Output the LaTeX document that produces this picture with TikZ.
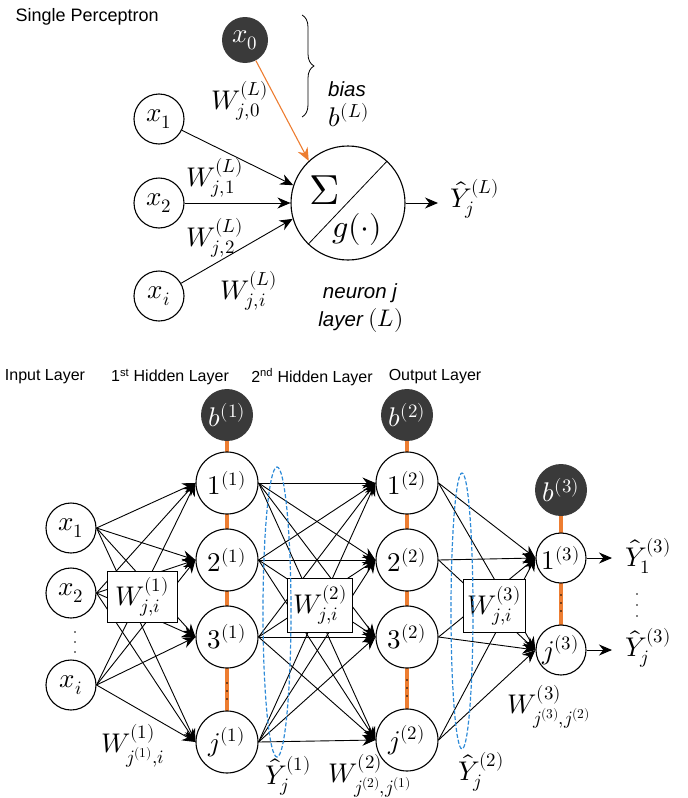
\documentclass[tikz,border=0pt]{standalone}
\usepackage{fontspec}
\usepackage{unicode-math}
\setmathfont{Latin Modern Math}
\newfontfamily\arialf{Liberation Sans}
\usetikzlibrary{arrows.meta,decorations.pathreplacing}
\definecolor{biasgray}{HTML}{3A3A3A}
\definecolor{linkorange}{HTML}{ED7D31}
\definecolor{ellblue}{HTML}{2E8BD8}
\begin{document}
\begin{tikzpicture}[x=1pt,y=-1pt,
  every node/.style={font=\fontsize{27}{31}\selectfont},
  inp/.style={circle,draw,line width=1.1pt,minimum size=50pt,inner sep=0pt,fill=white},
  hid/.style={circle,draw,line width=1.1pt,minimum size=62pt,inner sep=0pt,fill=white},
  bnode/.style={circle,fill=biasgray,text=white,minimum size=52pt,inner sep=0pt},
  arr/.style={line width=0.9pt,-{Stealth[length=13pt,width=11pt]}},
  olink/.style={line width=3.2pt,draw=linkorange},
  wbox/.style={draw,fill=white,line width=0.9pt,inner sep=0pt},
  lbl/.style={font=\arialf\fontsize{18}{22}\selectfont},
  hlbl/.style={font=\arialf\fontsize{16}{20}\selectfont},
  ilbl/.style={font=\arialf\itshape\fontsize{20.5}{24}\selectfont},
  yell/.style={draw=ellblue,dash pattern=on 4pt off 2pt,line width=1.2pt}
]
\useasboundingbox (0,0) rectangle (688,798);

% ---------------- Single perceptron ----------------
\node[lbl,anchor=west] (title) at (12,17) {Single Perceptron};
\node[bnode,minimum size=46pt] (x0) at (245,40) {$x_0$};
\node[inp] (px1) at (159,119) {$x_1$};
\node[inp] (px2) at (159,203) {$x_2$};
\node[inp] (pxi) at (159,296) {$x_i$};
\node[circle,draw,line width=1.1pt,minimum size=114pt,inner sep=0pt] (N) at (348,203) {};
\draw[line width=0.8pt] (N.226) -- (N.47);
\node[font=\fontsize{42}{46}\selectfont] (sig) at (325,190) {$\Sigma$};
\node[font=\fontsize{32}{36}\selectfont] (gfun) at (357,229) {$g(\cdot)$};
\draw[arr] (px1) -- (N.162);
\draw[arr] (px2) -- (N.180);
\draw[arr] (pxi) -- (N.196);
\draw[arr,draw=linkorange,line width=1.1pt] (x0) -- (N.133);
\coordinate (oL) at (438,203);
\draw[arr] (N) -- (oL);
\node (yL) at (475,199) {$\hat{Y}_j^{(L)}$};
\draw[line width=0.8pt,decorate,decoration={brace,amplitude=12pt}] (302,15) -- (302,117);
\node[ilbl] (bias) at (347,89) {bias};
\node (bL) at (349,115) {$b^{(L)}$};
\node (w0) at (240,101) {$W_{j,0}^{(L)}$};
\node (w1) at (215,178) {$W_{j,1}^{(L)}$};
\node (w2) at (215,238) {$W_{j,2}^{(L)}$};
\node (wi) at (249,291) {$W_{j,i}^{(L)}$};
\node[ilbl] (nj) at (360,293) {neuron j};
\node[ilbl] (lL) at (361,320) {layer \normalfont\fontsize{24}{28}\selectfont$(L)$};

% ---------------- Network ----------------
\node[hlbl] (hin) at (45,377) {Input Layer};
\node[hlbl] (hh1) at (170,377) {1\textsuperscript{st} Hidden Layer};
\node[hlbl] (hh2) at (312,377) {2\textsuperscript{nd} Hidden Layer};
\node[hlbl] (hout) at (435,377) {Output Layer};

% orange links (drawn first)
\draw[olink] (227,415) -- (227,742);
\draw[olink] (407,415) -- (407,740);
\draw[olink] (561,490) -- (561,650);

\node[bnode] (b1) at (227,415) {$b^{(1)}$};
\node[hid] (h11) at (227,483) {$1^{(1)}$};
\node[hid] (h12) at (227,560) {$2^{(1)}$};
\node[hid] (h13) at (227,637) {$3^{(1)}$};
\node[hid] (h1j) at (227,742) {$j^{(1)}$};

\node[bnode] (b2) at (407,415) {$b^{(2)}$};
\node[hid] (h21) at (407,483) {$1^{(2)}$};
\node[hid] (h22) at (407,560) {$2^{(2)}$};
\node[hid] (h23) at (407,637) {$3^{(2)}$};
\node[hid] (h2j) at (407,740) {$j^{(2)}$};

\node[bnode] (b3) at (561,490) {$b^{(3)}$};
\node[inp] (o1) at (561,558) {$1^{(3)}$};
\node[inp] (oj) at (561,650) {$j^{(3)}$};

\node[inp] (x1) at (71,528) {$x_1$};
\node[inp] (x2) at (71,593) {$x_2$};
\node[inp] (xi) at (71,685) {$x_i$};

% dots
\foreach \yy in {683,691,699} \fill (227,\yy) circle (0.8pt);
\foreach \yy in {680,688,696} \fill (407,\yy) circle (0.8pt);
\foreach \yy in {595,603,611} \fill (561,\yy) circle (0.8pt);
\foreach \yy in {632,642,652} \fill (75,\yy) circle (0.8pt);
\foreach \yy in {594,605,616} \fill (637,\yy) circle (0.8pt);

% connections
\foreach \a in {x1,x2,xi}
  \foreach \b in {h11,h12,h13,h1j}
    \draw[arr] (\a.east) -- (\b.west);
\foreach \a in {h11,h12,h13,h1j}
  \foreach \b in {h21,h22,h23,h2j}
    \draw[arr] (\a.east) -- (\b.west);
\foreach \a in {h21,h22,h23,h2j}
  \foreach \b in {o1,oj}
    \draw[arr] (\a.east) -- (\b.west);

\coordinate (oy1) at (612,558);
\coordinate (oyj) at (612,650);
\draw[arr] (o1) -- (oy1);
\draw[arr] (oj) -- (oyj);
\node (y1) at (648,556) {$\hat{Y}_1^{(3)}$};
\node (yj) at (648,648) {$\hat{Y}_j^{(3)}$};

% weight boxes
\node[wbox,minimum width=70pt,minimum height=51pt] (W1) at (142,597) {$W_{j,i}^{(1)}$};
\node[wbox,minimum width=65pt,minimum height=54pt] (W2) at (320,605) {$W_{j,i}^{(2)}$};
\node[wbox,minimum width=62pt,minimum height=53pt] (W3) at (494,606) {$W_{j,i}^{(3)}$};

% dashed ellipses
\draw[yell] (277,612) ellipse [x radius=14pt, y radius=145pt];
\draw[yell] (462,611) ellipse [x radius=11pt, y radius=138pt];

% labels
\node (lw1) at (133,746) {$W^{(1)}_{j^{(1)},i}$};
\node (ly1) at (288,776) {$\hat{Y}_j^{(1)}$};
\node (lw2) at (370,776) {$W^{(2)}_{j^{(2)},j^{(1)}}$};
\node (ly2) at (481,772) {$\hat{Y}_j^{(2)}$};
\node (lw3) at (549,707) {$W^{(3)}_{j^{(3)},j^{(2)}}$};
\end{tikzpicture}
\end{document}
